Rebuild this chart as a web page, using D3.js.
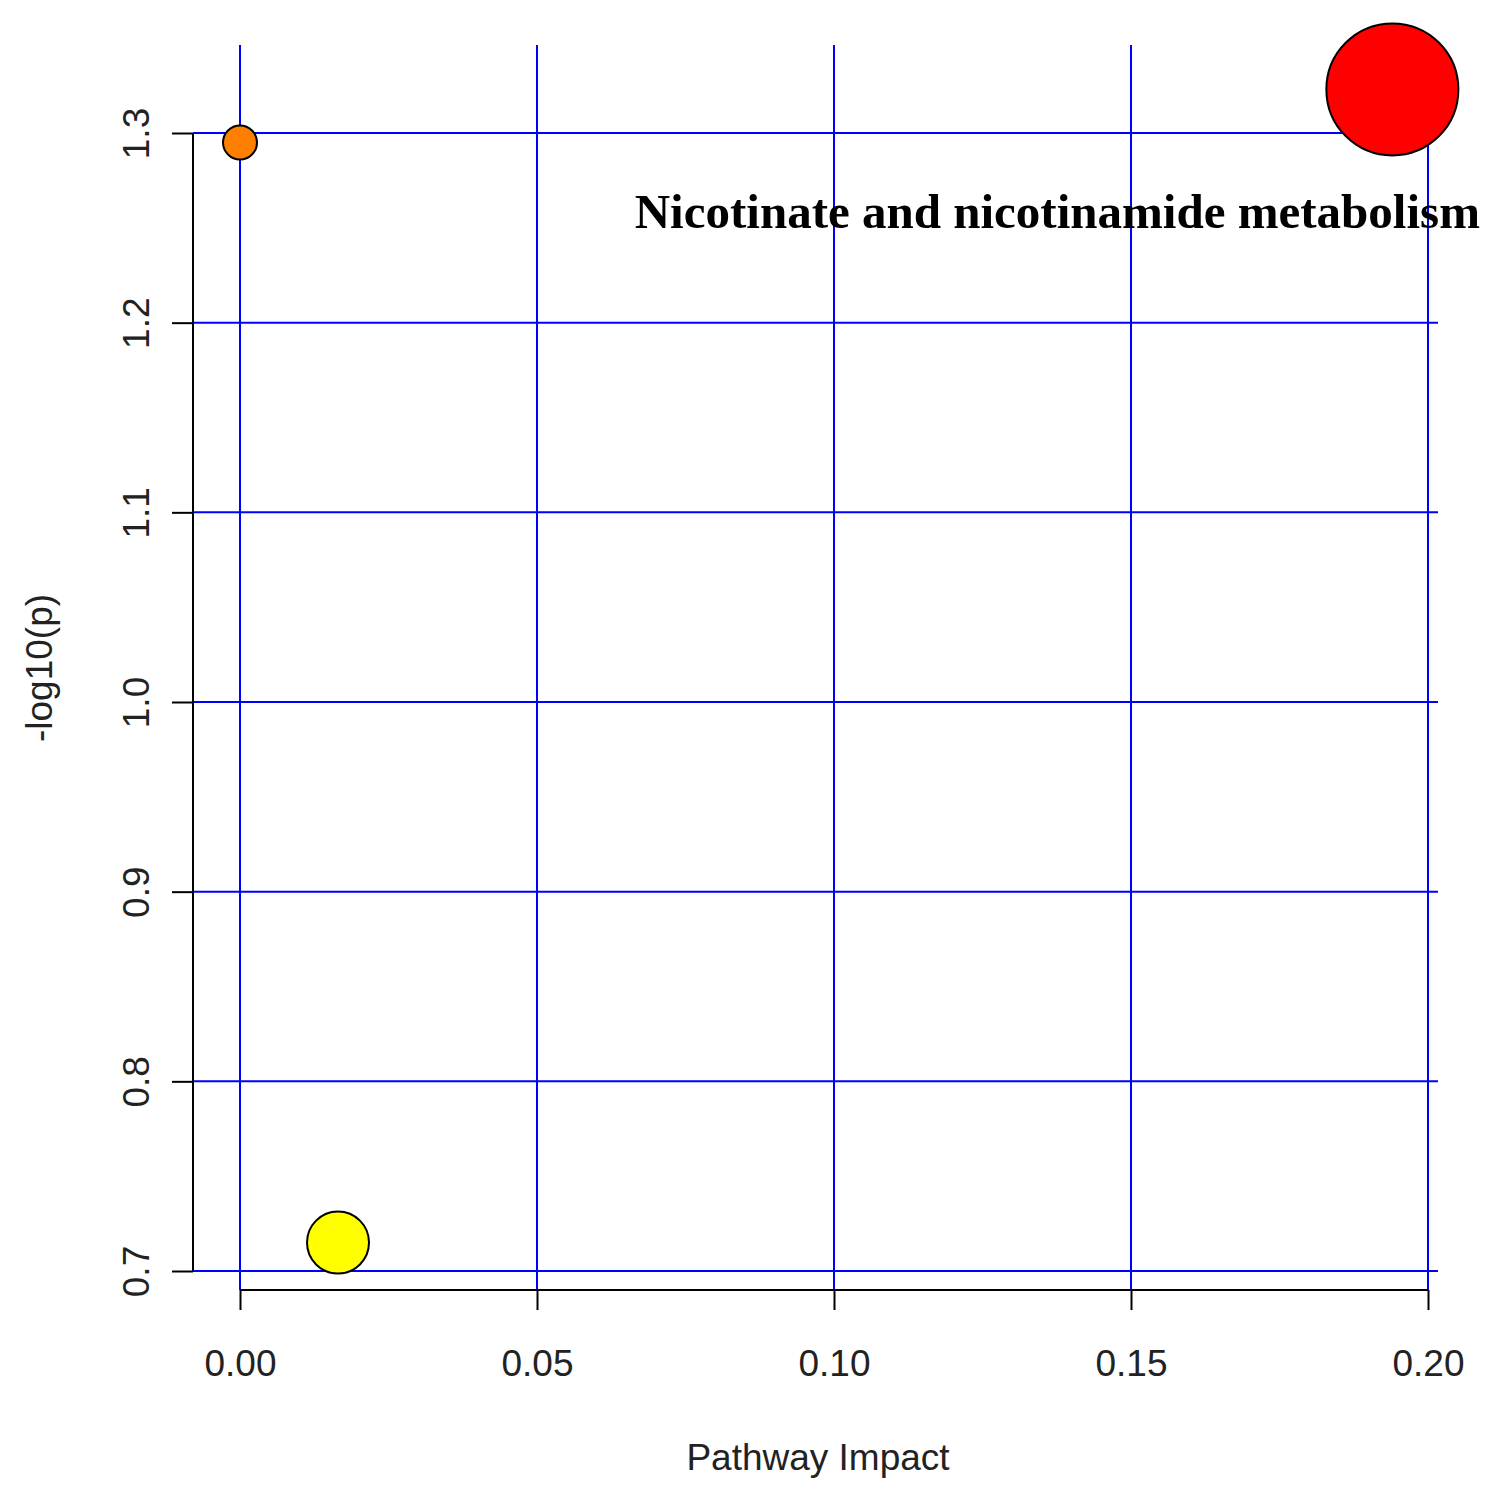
<!DOCTYPE html>
<html><head><meta charset="utf-8">
<script src="https://cdn.jsdelivr.net/npm/d3@7"></script>
<style>body{margin:0;background:#fff}</style></head>
<body><svg id="c" width="1508" height="1497"></svg>
<script>
const impact = [0.0, 0.0165, 0.194];
const logp = [1.295, 0.715, 1.323];
const radius = [17, 31, 66];
const fills = ["#ff7f00", "#ffff00", "#ff0000"];
const labels = ["", "", "Nicotinate and nicotinamide metabolism"];
const xTicks = [0, 0.05, 0.10, 0.15, 0.20];
const yTicks = [0.7, 0.8, 0.9, 1.0, 1.1, 1.2, 1.3];

const svg = d3.select("#c");
const x = d3.scaleLinear().domain([0, 0.2]).range([240, 1428]);
const y = d3.scaleLinear().domain([0.7, 1.3]).range([1271, 133]);
const font = "Liberation Sans, Arial, sans-serif";

// grid
svg.selectAll(".vg").data(xTicks).enter().append("line")
  .attr("x1", d => x(d)).attr("x2", d => x(d)).attr("y1", 45).attr("y2", 1290)
  .attr("stroke", "#0000ff").attr("stroke-width", 2);
svg.selectAll(".hg").data(yTicks).enter().append("line")
  .attr("x1", 193).attr("x2", 1438).attr("y1", d => y(d)).attr("y2", d => y(d))
  .attr("stroke", "#0000ff").attr("stroke-width", 2);

// axes
const xAxis = svg.append("g").attr("transform", "translate(0,1290)")
  .call(d3.axisBottom(x).tickValues(xTicks).tickFormat(d3.format(".2f")).tickSize(20).tickPadding(40));
const yAxis = svg.append("g").attr("transform", "translate(193,0)")
  .call(d3.axisLeft(y).tickValues(yTicks).tickFormat(d3.format(".1f")).tickSize(21).tickPadding(14));
[xAxis, yAxis].forEach(g => {
  g.select(".domain").attr("stroke", "#000").attr("stroke-width", 2);
  g.selectAll(".tick line").attr("stroke", "#000").attr("stroke-width", 2);
  g.selectAll("text").attr("font-family", font).attr("font-size", 37).attr("fill", "#222");
});
xAxis.select(".domain").attr("d", `M${x(0)},0H${x(0.2)}`);
yAxis.select(".domain").attr("d", `M0,${y(1.3)}V${y(0.7)}`);
yAxis.selectAll(".tick text")
  .attr("transform", "rotate(-90,-35,0)")
  .attr("x", -35).attr("dy", "-0.25em").attr("text-anchor", "middle");

// points
svg.selectAll(".pt").data(impact).enter().append("circle")
  .attr("cx", d => x(d)).attr("cy", (d, i) => y(logp[i])).attr("r", (d, i) => radius[i])
  .attr("fill", (d, i) => fills[i]).attr("stroke", "#000").attr("stroke-width", 2);

svg.selectAll(".lb").data(labels).enter().append("text")
  .attr("x", (d, i) => x(impact[i]) - 335).attr("y", (d, i) => y(logp[i]) + 139)
  .attr("text-anchor", "middle").attr("font-family", "Liberation Serif, Times New Roman, serif")
  .attr("font-weight", "bold").attr("font-size", 49).text(d => d);

svg.append("text").attr("x", 818).attr("y", 1470).attr("text-anchor", "middle")
  .attr("font-family", font).attr("font-size", 37).attr("fill", "#222").text("Pathway Impact");
svg.append("text").attr("transform", "translate(52,668) rotate(-90)").attr("text-anchor", "middle")
  .attr("font-family", font).attr("font-size", 37).attr("fill", "#222").text("-log10(p)");
</script></body></html>
